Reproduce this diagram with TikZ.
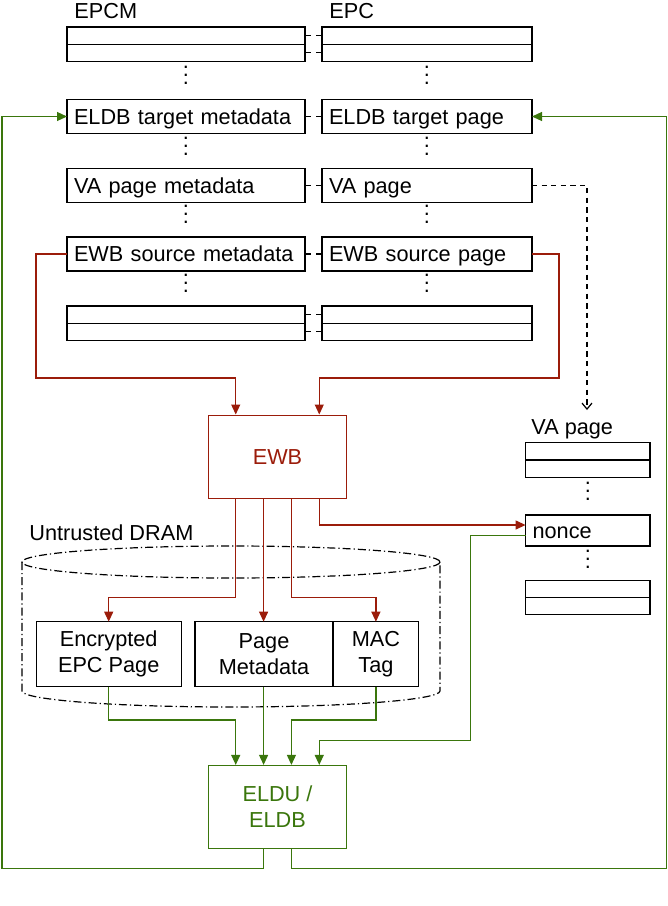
\documentclass[tikz,border=0pt]{standalone}
\usepackage{fontspec}
\setmainfont{Liberation Sans}
\usepackage{tikz}
\usepackage{xcolor}
\usetikzlibrary{arrows.meta, calc, positioning}

\definecolor{ewbred}{RGB}{155,28,10}
\definecolor{eldgreen}{RGB}{58,118,12}
\newcommand{\tightvdots}{\vbox{\baselineskip4pt\lineskiplimit0pt\hbox{.}\hbox{.}\hbox{.}}}

\begin{document}
\begin{tikzpicture}[x=0.5pt, y=-0.5pt,
    font=\fontsize{10.85}{13}\selectfont,
    cell/.style={draw, line width=0.6pt, anchor=north west, outer sep=0pt, minimum height=17pt, inner xsep=3.5pt, inner ysep=0pt, text height=7.9pt, text depth=0pt, align=left},
    metacell/.style={cell, text width=112pt},
    pagecell/.style={cell, text width=98pt},
    vacell/.style={cell, text width=55.2pt},
    half/.style={minimum height=8.6pt, text height=0pt},
    dots/.style={anchor=base, inner sep=0pt},
    label/.style={anchor=base west, inner sep=0pt},
    op/.style={draw, line width=0.6pt, minimum width=69pt, minimum height=41.5pt, align=center},
    store/.style={draw, line width=0.6pt, anchor=north west, outer sep=0pt, minimum height=32.5pt, align=center},
    link/.style={line width=0.6pt, dash pattern=on 3pt off 2.5pt},
    valink/.style={line width=0.6pt, dash pattern=on 2.6pt off 2.2pt, -{Straight Barb[length=3pt,width=5pt]}},
    dram/.style={line width=0.6pt, dash pattern=on 4pt off 1.5pt on 0.6pt off 1.5pt},
    redwire/.style={draw=ewbred, line width=0.6pt, -{Triangle[length=5pt,width=4.5pt]}},
    greenwire/.style={draw=eldgreen, line width=0.6pt, -{Triangle[length=5pt,width=4.5pt]}}]
\useasboundingbox (0,0) rectangle (668,906);

% EPCM and EPC
\node[label] (epcmlabel) at (74,18) {EPCM};
\node[label] (epclabel) at (329,18) {EPC};

\node[metacell, half] (mtop1) at (67,27) {};
\node[metacell, half] (mtop2) at (mtop1.south west) {};
\node[pagecell, half] (ptop1) at (322,27) {};
\node[pagecell, half] (ptop2) at (ptop1.south west) {};

\node[metacell] (meldb) at (67,99.5) {ELDB target metadata};
\node[pagecell] (peldb) at (322,99.5) {ELDB target page};

\node[metacell] (mva) at (67,168.5) {VA page metadata};
\node[pagecell] (pva) at (322,168.5) {VA page};

\node[metacell] (mewb) at (67,237) {EWB source metadata};
\node[pagecell] (pewb) at (322,237) {EWB source page};

\node[metacell, half] (mbot1) at (67,306) {};
\node[metacell, half] (mbot2) at (mbot1.south west) {};
\node[pagecell, half] (pbot1) at (322,306) {};
\node[pagecell, half] (pbot2) at (pbot1.south west) {};

\foreach \y in {84,155,223,292} {
    \node[dots] (mdots\y) at (186,\y) {\tightvdots};
    \node[dots] (pdots\y) at (427,\y) {\tightvdots};
}

\foreach \r in {top1,top2,eldb,va,ewb,bot1,bot2}
    \draw (m\r.east) edge[link] (p\r.west);

% VA page
\node[label] (valabel) at (531,434) {VA page};
\node[vacell, half] (vtop1) at (525.6,442.7) {};
\node[vacell, half] (vtop2) at (vtop1.south west) {};
\node[dots] (vdots1) at (588,500) {\tightvdots};
\node[vacell, minimum height=15.5pt] (nonce) at (525.6,515) {nonce};
\node[dots] (vdots2) at (588,568) {\tightvdots};
\node[vacell, half] (vbot1) at (525.6,580.3) {};
\node[vacell, half] (vbot2) at (vbot1.south west) {};

\coordinate (vaend) at (587,410);
\draw[valink] (pva.east) -| (vaend);

% instructions
\node[op, draw=ewbred, text=ewbred] (ewb) at (277.5,456.6) {EWB};
\node[op, draw=eldgreen, text=eldgreen] (eldu) at (277.5,807) {ELDU /\\ELDB};

\foreach \i/\f in {1/.2,2/.4,3/.6,4/.8} {
    \coordinate (ewbin\i) at ($(ewb.north west)!\f!(ewb.north east)$);
    \coordinate (ewbout\i) at ($(ewb.south west)!\f!(ewb.south east)$);
    \coordinate (elduin\i) at ($(eldu.north west)!\f!(eldu.north east)$);
    \coordinate (elduout\i) at ($(eldu.south west)!\f!(eldu.south east)$);
}

% untrusted DRAM
\node[label] (dramlabel) at (29,540) {Untrusted DRAM};
\draw[dram] (231,562) ellipse [x radius=209, y radius=16];
\draw[dram] (22,562) -- (22,691) arc[start angle=180, end angle=0, x radius=209, y radius=16] -- (440,562);

\node[store, minimum width=72.4pt] (encpage) at (36.3,621.7) {Encrypted\\EPC Page};
\node[store, minimum width=69pt] (pagemeta) at (195,621.7) {Page\\Metadata};
\node[store, minimum width=42.9pt] (mactag) at (pagemeta.north east) {MAC\\Tag};

% EWB
\draw[redwire] (mewb.west) -| (36,378) -| (ewbin1);
\draw[redwire] (pewb.east) -| (559,378) -| (ewbin4);
\draw[redwire] (ewbout1) |- ($(encpage.north)+(0,-24)$) -- (encpage.north);
\draw[redwire] (ewbout2) -- (ewbout2 |- pagemeta.north);
\draw[redwire] (ewbout3) |- ($(mactag.north)+(0,-24)$) -- (mactag.north);
\draw[redwire] (ewbout4) |- ([yshift=2.75pt]nonce.west);

% ELDU / ELDB
\draw[greenwire] (encpage.south) |- ($(elduin1)+(0,-45)$) -- (elduin1);
\draw[greenwire] (elduin2 |- pagemeta.south) -- (elduin2);
\draw[greenwire] (mactag.south) |- ($(elduin3)+(0,-45)$) -- (elduin3);
\draw[greenwire] ([yshift=-2.6pt]nonce.west) -| (470.5,740.3) -| (elduin4);
\draw[greenwire] (elduout2) |- (2,868.7) |- (meldb.west);
\draw[greenwire] (elduout3) |- (666.5,868.7) |- (peldb.east);
\end{tikzpicture}
\end{document}
